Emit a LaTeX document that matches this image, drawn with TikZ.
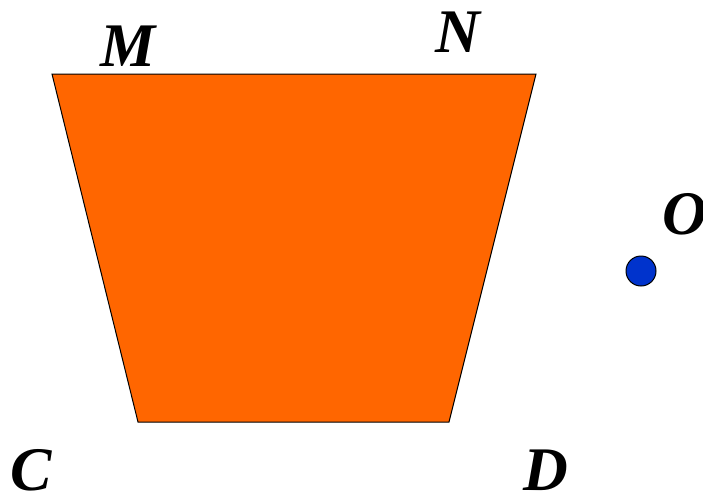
\documentclass[tikz,border=0pt]{standalone}
\usepackage{fontspec}
\setmainfont{Liberation Serif}
\begin{document}
\begin{tikzpicture}[x=1pt,y=-1pt,
  lbl/.style={font=\fontsize{62}{62}\selectfont\bfseries\itshape, inner sep=0pt, anchor=center},
  trapfill/.style={draw=black, line width=1pt, fill={rgb,255:red,255;green,102;blue,0}}]
\useasboundingbox (0,0) rectangle (703,495);
\coordinate (M) at (52,74);
\coordinate (N) at (536,74);
\coordinate (D) at (449,422);
\coordinate (C) at (138,422);
\draw[trapfill] (M) -- (N) -- (D) -- (C) -- cycle;
\node[circle, draw=black, line width=1pt, fill={rgb,255:red,0;green,51;blue,204}, minimum size=30pt, inner sep=0pt] (dotO) at (641,271) {};
\node[lbl] (lM) at (128,46) {M};
\node[lbl] (lN) at (458,32) {N};
\node[lbl] (lO) at (685,214) {O};
\node[lbl] (lC) at (31,470) {C};
\node[lbl] (lD) at (546,470) {D};
\end{tikzpicture}
\end{document}
